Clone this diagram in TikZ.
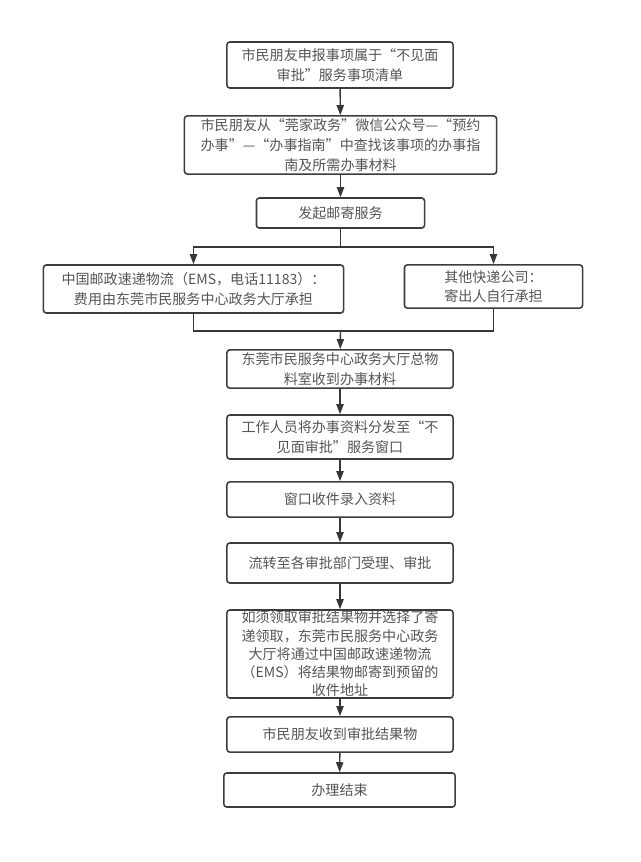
\documentclass[tikz,border=0pt]{standalone}
\usepackage{fontspec}
\setmainfont{Noto Sans CJK SC}
\usetikzlibrary{arrows.meta,positioning,calc}
\definecolor{bordercolor}{RGB}{60,60,60}
\definecolor{textcolor}{RGB}{85,85,85}
\definecolor{arrowcolor}{RGB}{55,55,55}
\tikzset{
    stepbox/.style={
        rectangle,
        rounded corners=2pt,
        minimum width=5.65cm,
        align=center,
        draw=bordercolor,
        line width=1.1pt,
        text=textcolor,
        inner sep=2pt,
        font=\fontsize{10}{14}\selectfont
    },
    link/.style={line width=1pt, color=arrowcolor},
    arrow/.style={link, -{Triangle[length=2.5mm,width=1.8mm]}}
}
\begin{document}
\begin{tikzpicture}[x=0.025cm, y=-0.025cm]
    \useasboundingbox[fill=white] (0,0) rectangle (640,862);

    % Application
    \node[stepbox, minimum height=1.15cm] (apply) at (340,65) {市民朋友申报事项属于“不见面\\审批”服务事项清单};
    \node[stepbox, minimum width=7.8cm, minimum height=1.35cm] (guide) at (340.5,145) {市民朋友从“莞家政务”微信公众号—“预约\\办事”—“办事指南”中查找该事项的办事指\\南及所需办事材料};
    \node[stepbox, minimum width=4.2cm, minimum height=0.75cm] (mail) at (340.5,213) {发起邮寄服务};

    % Courier choice
    \node[stepbox, minimum width=7.5cm, minimum height=1.2cm] (ems) at (193.5,289) {中国邮政速递物流（EMS，电话11183）：\\费用由东莞市民服务中心政务大厅承担};
    \node[stepbox, minimum width=4.45cm, minimum height=1.08cm] (other) at (493.5,286.5) {其他快递公司：\\寄出人自行承担};

    % Processing
    \node[stepbox, minimum height=0.95cm] (receive) at (340,369) {东莞市民服务中心政务大厅总物\\料室收到办事材料};
    \node[stepbox, minimum height=1.1cm] (dispatch) at (340,437) {工作人员将办事资料分发至“不\\见面审批”服务窗口};
    \node[stepbox, minimum height=0.88cm] (window) at (340,499.5) {窗口收件录入资料};
    \node[stepbox, minimum height=1cm] (approve) at (340,563) {流转至各审批部门受理、审批};
    \node[stepbox, minimum height=2.2cm, inner ysep=0pt, font=\fontsize{10}{13}\selectfont] (result) at (340,654) {如须领取审批结果物并选择了寄\\递领取，东莞市民服务中心政务\\大厅将通过中国邮政速递物流\\（EMS）将结果物邮寄到预留的\\收件地址};

    % Finish
    \node[stepbox, minimum height=0.88cm] (got) at (340,734.5) {市民朋友收到审批结果物};
    \node[stepbox, minimum width=5.78cm, minimum height=0.85cm] (done) at (339.5,790) {办理结束};

    \coordinate (split) at (340.5,247);
    \coordinate (merge) at (340.5,331);

    % Arrows
    \draw[arrow] (apply) -- (guide);
    \draw[arrow] (guide) -- (mail);
    \draw[link] (mail) -- (split);
    \draw[arrow] (split) -| (ems);
    \draw[arrow] (split) -| (other);
    \draw[link] (ems) |- (merge);
    \draw[link] (other) |- (merge);
    \draw[arrow] (merge) -- (receive);
    \draw[arrow] (receive) -- (dispatch);
    \draw[arrow] (dispatch) -- (window);
    \draw[arrow] (window) -- (approve);
    \draw[arrow] (approve) -- (result);
    \draw[arrow] (result) -- (got);
    \draw[arrow] (got) -- (done);
\end{tikzpicture}
\end{document}
